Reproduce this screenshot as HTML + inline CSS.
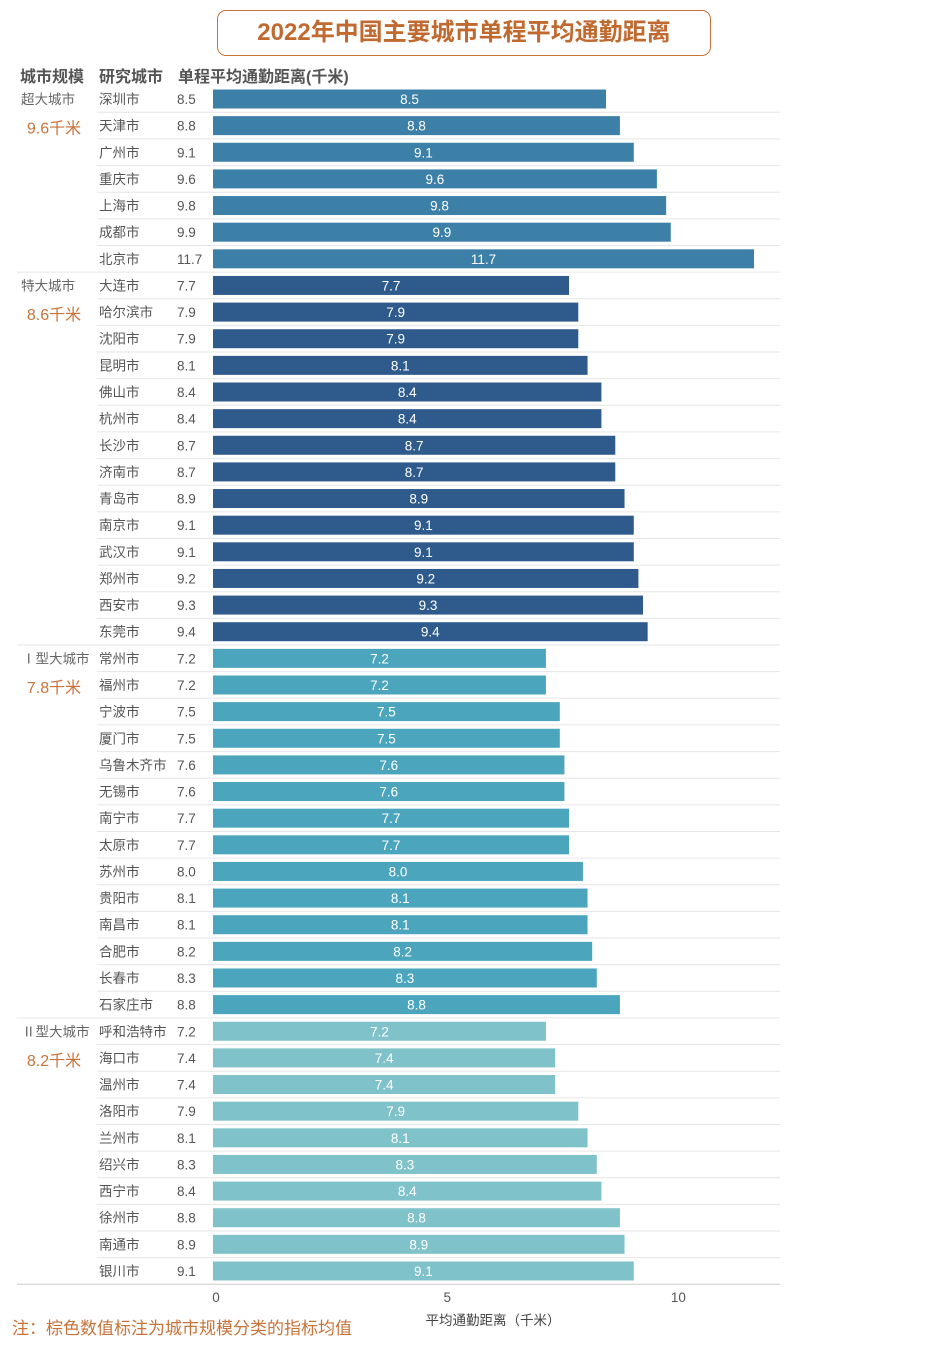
<!DOCTYPE html>
<html><head><meta charset="utf-8">
<style>
html,body{margin:0;padding:0;background:#fff;}
body{width:927px;height:1346px;position:relative;overflow:hidden;font-family:"Liberation Sans","Noto Sans CJK SC",sans-serif;}
#title{position:absolute;left:217px;top:10px;width:494px;height:46px;border:1.5px solid #c8733a;border-radius:9px;box-sizing:border-box;text-align:center;line-height:44px;font-size:24px;font-weight:bold;color:#c06a30;}
svg text{font-family:"Liberation Sans","Noto Sans CJK SC",sans-serif;}
</style></head>
<body>
<div id="title">2022年中国主要城市单程平均通勤距离</div>
<svg id="chart" width="927" height="1346" style="position:absolute;left:0;top:0"></svg>
<script>
const groupNames=["超大城市","特大城市","Ⅰ型大城市","Ⅱ型大城市"];
const groupAvgs=["9.6千米","8.6千米","7.8千米","8.2千米"];
const groupSizes=[7,14,14,10];
const groupColors=["#3c80a8","#2f5b8c","#4aa5bd","#80c2c9"];
const cities=["深圳市","天津市","广州市","重庆市","上海市","成都市","北京市",
"大连市","哈尔滨市","沈阳市","昆明市","佛山市","杭州市","长沙市","济南市","青岛市","南京市","武汉市","郑州市","西安市","东莞市",
"常州市","福州市","宁波市","厦门市","乌鲁木齐市","无锡市","南宁市","太原市","苏州市","贵阳市","南昌市","合肥市","长春市","石家庄市",
"呼和浩特市","海口市","温州市","洛阳市","兰州市","绍兴市","西宁市","徐州市","南通市","银川市"];
const values=[8.5,8.8,9.1,9.6,9.8,9.9,11.7,
7.7,7.9,7.9,8.1,8.4,8.4,8.7,8.7,8.9,9.1,9.1,9.2,9.3,9.4,
7.2,7.2,7.5,7.5,7.6,7.6,7.7,7.7,8.0,8.1,8.1,8.2,8.3,8.8,
7.2,7.4,7.4,7.9,8.1,8.3,8.4,8.8,8.9,9.1];
const xTicks=[0,5,10];

const svg=document.getElementById('chart');
const NS='http://www.w3.org/2000/svg';
const x0=213, xScale=46.24;
const xf=v=>x0+v*xScale;
const y0=99, rowH=26.636;
const yf=i=>y0+i*rowH;
function mk(tag,attrs,txt){const e=document.createElementNS(NS,tag);for(const k in attrs)e.setAttribute(k,attrs[k]);if(txt!==undefined)e.textContent=txt;svg.appendChild(e);return e;}

// header
let h;
h=mk('text',{x:20,y:82,'font-size':16,'font-weight':'bold',fill:'#555'},'城市规模');

h=mk('text',{x:99,y:82,'font-size':16,'font-weight':'bold',fill:'#555'},'研究城市');

h=mk('text',{x:178,y:82,'font-size':16,'font-weight':'bold',fill:'#555'},'单程平均通勤距离(千米)');


let idx=0;
groupSizes.forEach((n,g)=>{
  const gs=idx;
  let t=mk('text',{x:g>=2?22:21,y:yf(gs)+5,'font-size':13.5,fill:'#666'},groupNames[g]);
  
  t=mk('text',{x:54,y:yf(gs+1)+8,'font-size':16,fill:'#c8733a','text-anchor':'middle'},groupAvgs[g]);
  
  for(let k=0;k<n;k++){
    const i=idx+k, yc=yf(i);
    const last=(k===n-1);
    const ln=mk('line',{x1:last?17:97,x2:780,y1:yc+13.3,y2:yc+13.3,stroke:last&&g===3?'#ccc':'#e6e6e6','stroke-width':1});
    
    let c=mk('text',{x:99,y:yc+5,'font-size':13.5,fill:'#555'},cities[i]);
    
    c=mk('text',{x:177,y:yc+5,'font-size':13.5,fill:'#555'},values[i].toFixed(1));
    
    const b=mk('rect',{x:x0,y:yc-9.5,width:xf(values[i])-x0,height:19,fill:groupColors[g]});
    
    c=mk('text',{x:(x0+xf(values[i]))/2,y:yc+5,'font-size':13.5,fill:'#fff','text-anchor':'middle'},values[i].toFixed(1));
    
  }
  idx+=n;
});
xTicks.forEach(v=>{
  const t=mk('text',{x:xf(v)+3,y:1302,'font-size':13.5,fill:'#555','text-anchor':'middle'},String(v));
  
});
let at=mk('text',{x:493,y:1325,'font-size':13.5,fill:'#444','text-anchor':'middle'},'平均通勤距离（千米）');

let nt=mk('text',{x:12,y:1334,'font-size':17,fill:'#c8733a'},'注：棕色数值标注为城市规模分类的指标均值');

</script>
</body></html>
